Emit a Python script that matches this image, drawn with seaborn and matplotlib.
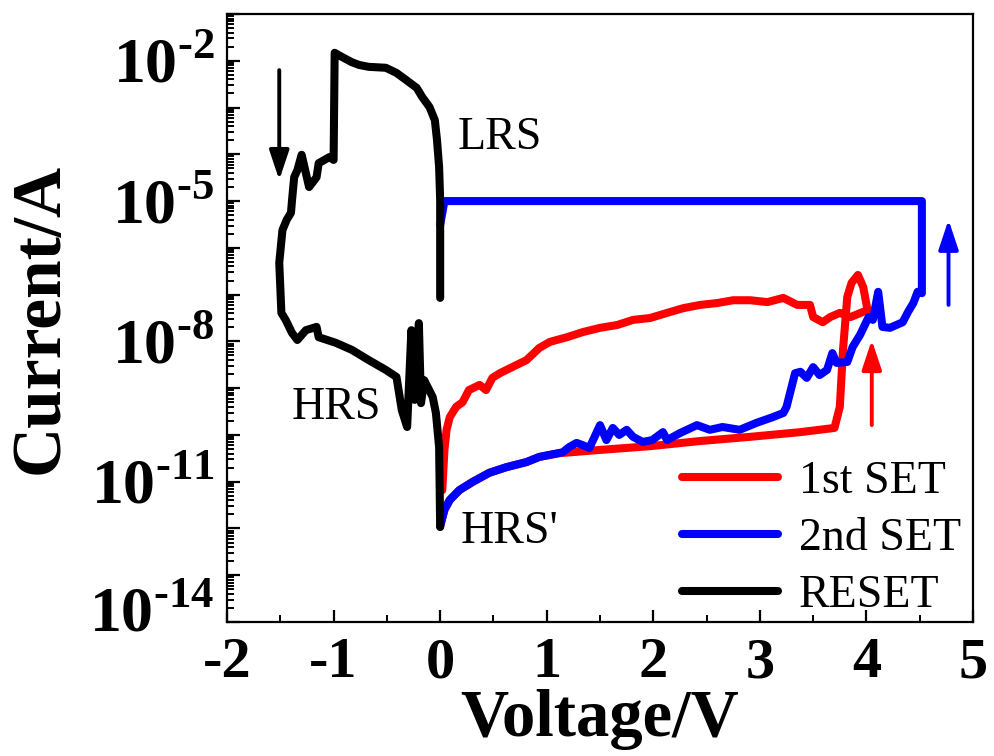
import numpy as np
import pandas as pd
import matplotlib
matplotlib.use("Agg")
import matplotlib.pyplot as plt
import matplotlib.transforms as mtransforms
from matplotlib.ticker import LogLocator, FuncFormatter, MultipleLocator, NullFormatter
import seaborn as sns

# ---------------------------------------------------------------
# Data (voltage in V, log10 of current in A)
# ---------------------------------------------------------------
set1_V = [0.00, 0.04, 0.09, 0.18, 0.30, 0.46, 0.62, 0.81, 0.93, 1.12, 1.50, 1.97, 2.44,
          2.91, 3.38, 3.70, 3.75, 3.78, 3.82, 3.86, 3.92, 3.97, 4.01, 3.85, 3.75, 3.66,
          3.59, 3.50, 3.47, 3.35, 3.22, 3.07, 2.91, 2.75, 2.60, 2.44, 2.28, 2.13, 1.97,
          1.81, 1.66, 1.50, 1.34, 1.19, 1.03, 0.93, 0.81, 0.72, 0.56, 0.49, 0.43, 0.37,
          0.27, 0.21, 0.15, 0.09, 0.06, 0.04, 0.02]
set1_logI = [-11.95, -11.60, -11.39, -11.18, -11.01, -10.81, -10.69, -10.58, -10.47, -10.39,
             -10.32, -10.24, -10.13, -10.04, -9.94, -9.85, -9.40, -8.18, -7.05, -6.75, -6.58,
             -6.84, -7.33, -7.48, -7.39, -7.48, -7.59, -7.48, -7.22, -7.22, -7.07, -7.16,
             -7.12, -7.12, -7.18, -7.22, -7.29, -7.39, -7.50, -7.54, -7.65, -7.71, -7.80,
             -7.91, -8.01, -8.14, -8.40, -8.50, -8.68, -8.78, -9.04, -8.93, -9.04, -9.30,
             -9.40, -9.62, -9.89, -10.32, -11.18]

set2_V = [0.00, 0.04, 0.09, 0.18, 0.30, 0.46, 0.62, 0.81, 0.93, 1.15, 1.21, 1.28, 1.34,
          1.40, 1.50, 1.56, 1.62, 1.68, 1.75, 1.81, 1.90, 1.99, 2.09, 2.13, 2.25, 2.41,
          2.53, 2.65, 2.81, 2.97, 3.12, 3.22, 3.25, 3.33, 3.38, 3.44, 3.50, 3.56, 3.63,
          3.68, 3.72, 3.82, 3.87, 3.94, 4.02, 4.06, 4.11, 4.15, 4.22, 4.34, 4.39, 4.44,
          4.48, 4.52, 4.52, 0.04, 0.00]
set2_logI = [-11.95, -11.60, -11.39, -11.18, -11.01, -10.81, -10.69, -10.58, -10.47, -10.37,
             -10.26, -10.17, -10.22, -10.28, -9.79, -10.11, -9.85, -10.00, -9.89, -10.04,
             -10.15, -10.11, -9.94, -10.11, -9.96, -9.79, -9.89, -9.83, -9.89, -9.74, -9.62,
             -9.53, -9.40, -8.68, -8.65, -8.78, -8.55, -8.72, -8.61, -8.25, -8.46, -8.44,
             -8.12, -7.86, -7.48, -7.54, -6.94, -7.69, -7.71, -7.59, -7.37, -7.18, -6.94,
             -6.97, -5.00, -5.00, -5.51]

reset_V = [0.00, 0.00, -0.01, -0.03, -0.05, -0.10, -0.17, -0.22, -0.32, -0.41, -0.51, -0.67,
           -0.76, -0.83, -0.92, -0.99, -1.00, -1.04, -1.14, -1.16, -1.23, -1.30, -1.34,
           -1.37, -1.39, -1.40, -1.44, -1.48, -1.51, -1.49, -1.45, -1.39, -1.34, -1.26,
           -1.16, -1.14, -0.98, -0.83, -0.67, -0.51, -0.41, -0.36, -0.31, -0.27, -0.24,
           -0.20, -0.18, -0.15, -0.07, -0.04, -0.01, 0.00]
reset_logI = [-7.07, -4.98, -4.27, -3.69, -3.27, -2.99, -2.77, -2.58, -2.41, -2.26, -2.15,
              -2.13, -2.09, -2.03, -1.92, -1.83, -4.12, -4.06, -4.19, -4.49, -4.70, -4.01,
              -4.34, -4.49, -4.98, -5.25, -5.40, -5.62, -6.32, -7.39, -7.54, -7.82, -7.97,
              -7.76, -7.69, -7.91, -8.03, -8.18, -8.40, -8.61, -8.76, -9.47, -9.83, -7.76,
              -9.25, -7.61, -9.32, -8.83, -9.19, -9.53, -10.26, -11.97]

series_names = ['1st SET', '2nd SET', 'RESET']
series_colors = ['#ff0000', '#0000ff', '#000000']
labelled_exps = [-14, -11, -8, -5, -2]

# ---------------------------------------------------------------
# Style
# ---------------------------------------------------------------
sns.set_theme(style='ticks')
plt.rcParams['font.family'] = ['Liberation Serif', 'DejaVu Serif']
plt.rcParams['mathtext.fontset'] = 'custom'
plt.rcParams['mathtext.rm'] = 'Liberation Serif:bold'
plt.rcParams['mathtext.bf'] = 'Liberation Serif:bold'
plt.rcParams['axes.unicode_minus'] = False
for k in ['text.color', 'axes.labelcolor', 'xtick.color', 'ytick.color', 'axes.edgecolor']:
    plt.rcParams[k] = 'black'

fig, ax = plt.subplots(figsize=(9.94, 7.56), dpi=100)
fig.subplots_adjust(left=0.2284, right=0.9789, top=0.9815, bottom=0.1772)

frames = [
    pd.DataFrame({'V': set1_V, 'I': 10.0 ** np.array(set1_logI)}),
    pd.DataFrame({'V': set2_V, 'I': 10.0 ** np.array(set2_logI)}),
    pd.DataFrame({'V': reset_V, 'I': 10.0 ** np.array(reset_logI)}),
]
for df, name, col in zip(frames, series_names, series_colors):
    sns.lineplot(data=df, x='V', y='I', sort=False, estimator=None, color=col,
                 lw=5.8, label=name, ax=ax, solid_capstyle='round', solid_joinstyle='round')

ax.set_yscale('log')
ax.set_xlim(-2, 5)
ax.set_ylim(1e-14, 1e-1)

# ticks
ax.xaxis.set_major_locator(MultipleLocator(1))
ax.xaxis.set_minor_locator(MultipleLocator(0.5))
ax.yaxis.set_major_locator(LogLocator(base=10, numticks=30))
ax.yaxis.set_minor_locator(LogLocator(base=10, subs=np.arange(2, 10), numticks=30))
ax.yaxis.set_minor_formatter(NullFormatter())


def fmt_y(v, pos):
    e = int(round(np.log10(v)))
    if e not in labelled_exps:
        return ''
    return r'$\mathbf{10}^{\text{-}%d}$' % abs(e)


ax.yaxis.set_major_formatter(FuncFormatter(fmt_y))
ax.tick_params(which='major', direction='in', length=9, width=1.6)
ax.tick_params(which='minor', direction='in', length=5, width=1.4)
ax.tick_params(axis='x', which='major', labelsize=42, pad=11)
ax.tick_params(axis='y', which='major', labelsize=46, pad=9)
for lbl in ax.get_xticklabels():
    lbl.set_fontweight('bold')
for s in ax.spines.values():
    s.set_linewidth(1.6)

# lowest y label sits a bit higher, as in the original
for lbl in ax.get_yticklabels():
    if '14' in lbl.get_text():
        lbl.set_transform(lbl.get_transform() +
                          mtransforms.ScaledTranslation(0, 0.13, fig.dpi_scale_trans))

ax.set_xlabel('Voltage/V', fontsize=48, fontweight='bold', labelpad=0)
ax.set_ylabel('Current/A', fontsize=50, fontweight='bold', labelpad=12)

# annotations
ax.text(0.56, 10 ** -3.65, 'LRS', fontsize=33, ha='center', va='center')
ax.text(-0.97, 10 ** -9.42, 'HRS', fontsize=33, ha='center', va='center')
ax.text(0.65, 10 ** -12.08, "HRS'", fontsize=33, ha='center', va='center')

arrow_kw = dict(arrowstyle='-|>,head_length=0.9,head_width=0.3', lw=2.8, mutation_scale=20,
                shrinkA=0, shrinkB=0)
ax.annotate('', xy=(-1.51, 10 ** -4.55), xytext=(-1.51, 10 ** -2.2),
            arrowprops=dict(color='black', **arrow_kw))
ax.annotate('', xy=(4.77, 10 ** -5.4), xytext=(4.77, 10 ** -7.22),
            arrowprops=dict(color='#0000ff', **arrow_kw))
ax.annotate('', xy=(4.05, 10 ** -7.97), xytext=(4.05, 10 ** -9.79),
            arrowprops=dict(color='#ff0000', **arrow_kw))

ax.legend(loc='lower right', bbox_to_anchor=(0.99, 0.0), frameon=False, fontsize=33,
          handlelength=2.1, handletextpad=0.45, labelspacing=0.32, borderaxespad=0.0,
          borderpad=0.1)

fig.savefig('out.png', dpi=100)
